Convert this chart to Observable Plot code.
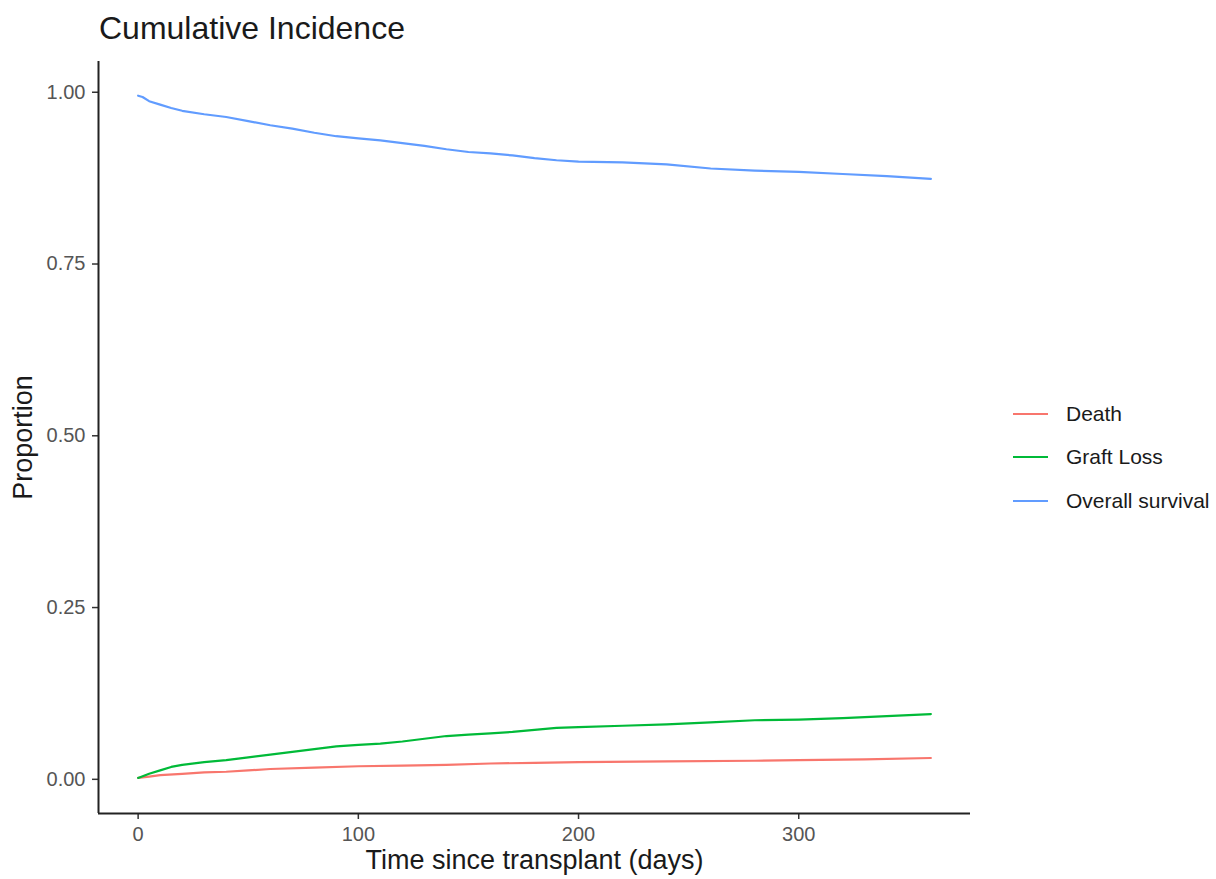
<!DOCTYPE html>
<html>
<head>
<meta charset="utf-8">
<script src="https://cdn.jsdelivr.net/npm/d3@7"></script>
<script src="https://cdn.jsdelivr.net/npm/@observablehq/plot@0.6"></script>
<style>
  html, body { margin: 0; padding: 0; background: #fff; }
  body { width: 1216px; height: 879px; position: relative; overflow: hidden; font-family: "Liberation Sans", Arial, sans-serif; }
  #title { position: absolute; left: 99px; top: 10px; font-size: 32px; line-height: 36px; color: #1a1a1a; white-space: nowrap; }
  #chart { position: absolute; left: 0; top: 50px; }
  #legend { position: absolute; left: 1012px; top: 392px; }
  .key { display: flex; align-items: center; height: 43.5px; font-size: 21px; color: #1a1a1a; white-space: nowrap; }
  .key svg { margin-right: 17px; }
</style>
</head>
<body>
<div id="title">Cumulative Incidence</div>
<div id="chart"></div>
<div id="legend"></div>
<script>
const seriesNames = ["Death", "Graft Loss", "Overall survival"];
const seriesColors = ["#F8766D", "#00BA38", "#619CFF"];

const deathDays = [0, 5, 10, 20, 30, 40, 50, 60, 80, 100, 120, 140, 160, 180, 200, 240, 280, 300, 330, 360];
const deathVals = [0.002, 0.004, 0.006, 0.008, 0.010, 0.011, 0.013, 0.015, 0.017, 0.019, 0.020, 0.021, 0.023, 0.024, 0.025, 0.026, 0.027, 0.028, 0.029, 0.031];

const graftDays = [0, 5, 10, 15, 20, 30, 40, 50, 60, 70, 80, 90, 100, 110, 120, 130, 140, 150, 160, 170, 180, 190, 200, 220, 240, 260, 280, 300, 320, 340, 360];
const graftVals = [0.002, 0.008, 0.013, 0.018, 0.021, 0.025, 0.028, 0.032, 0.036, 0.040, 0.044, 0.048, 0.050, 0.052, 0.055, 0.059, 0.063, 0.065, 0.067, 0.069, 0.072, 0.075, 0.076, 0.078, 0.080, 0.083, 0.086, 0.087, 0.089, 0.092, 0.095];

const survDays = [0, 2, 5, 10, 15, 20, 30, 40, 50, 60, 70, 80, 90, 100, 110, 120, 130, 140, 150, 160, 170, 180, 190, 200, 220, 240, 260, 280, 300, 320, 340, 360];
const survVals = [0.995, 0.993, 0.987, 0.982, 0.977, 0.973, 0.968, 0.964, 0.958, 0.952, 0.947, 0.941, 0.936, 0.933, 0.930, 0.926, 0.922, 0.917, 0.913, 0.911, 0.908, 0.904, 0.901, 0.899, 0.898, 0.895, 0.889, 0.886, 0.884, 0.881, 0.878, 0.874];

const xTicks = [0, 100, 200, 300];
const yTicks = [0, 0.25, 0.5, 0.75, 1.0];

const rows = [];
[[deathDays, deathVals], [graftDays, graftVals], [survDays, survVals]].forEach(([ds, vs], i) => {
  ds.forEach((d, j) => rows.push({ series: seriesNames[i], day: d, value: vs[j] }));
});

// ggplot-like 5% expansion
const xMin = 0, xMax = 360, xPad = (xMax - xMin) * 0.05;
const yMin = 0, yMax = 0.995, yPad = (yMax - yMin) * 0.05;
const xDomain = [xMin - xPad, xMax + xPad];
const yDomain = [yMin - yPad, yMax + yPad];

const plot = Plot.plot({
  width: 1000,
  height: 829,
  marginLeft: 98,
  marginRight: 30,
  marginTop: 11,
  marginBottom: 66,
  style: { fontFamily: "Liberation Sans, Arial, sans-serif", background: "#fff" },
  x: { domain: xDomain },
  y: { domain: yDomain },
  color: { domain: seriesNames, range: seriesColors },
  marks: [
    Plot.axisX({ ticks: xTicks, tickSize: 6, tickPadding: 7, fontSize: 20, color: "#555", stroke: "#333", strokeWidth: 1.5,
      label: "Time since transplant (days)", labelAnchor: "center", labelArrow: "none", labelOffset: 55 }),
    Plot.axisY({ ticks: yTicks, tickFormat: d3.format(".2f"), tickSize: 6, tickPadding: 7, fontSize: 20, color: "#555", stroke: "#333", strokeWidth: 1.5,
      label: "Proportion", labelAnchor: "center", labelArrow: "none", labelOffset: 86 }),
    Plot.ruleX([xDomain[0]], { stroke: "#222", strokeWidth: 2 }),
    Plot.ruleY([yDomain[0]], { stroke: "#222", strokeWidth: 2 }),
    Plot.line(rows, { x: "day", y: "value", z: "series", stroke: "series", strokeWidth: 2.2, curve: "linear" })
  ]
});

// style axis labels larger
plot.querySelectorAll("[aria-label='x-axis label'] text, [aria-label='y-axis label'] text").forEach(t => {
  t.setAttribute("font-size", "27");
  t.style.fontSize = "27px";
  t.setAttribute("fill", "#1a1a1a");
});
document.getElementById("chart").appendChild(plot);

const legend = document.getElementById("legend");
seriesNames.forEach((name, i) => {
  const row = document.createElement("div");
  row.className = "key";
  row.innerHTML = `<svg width="37" height="6"><line x1="1" x2="36" y1="3" y2="3" stroke="${seriesColors[i]}" stroke-width="2"/></svg><span>${name}</span>`;
  legend.appendChild(row);
});
</script>
</body>
</html>
